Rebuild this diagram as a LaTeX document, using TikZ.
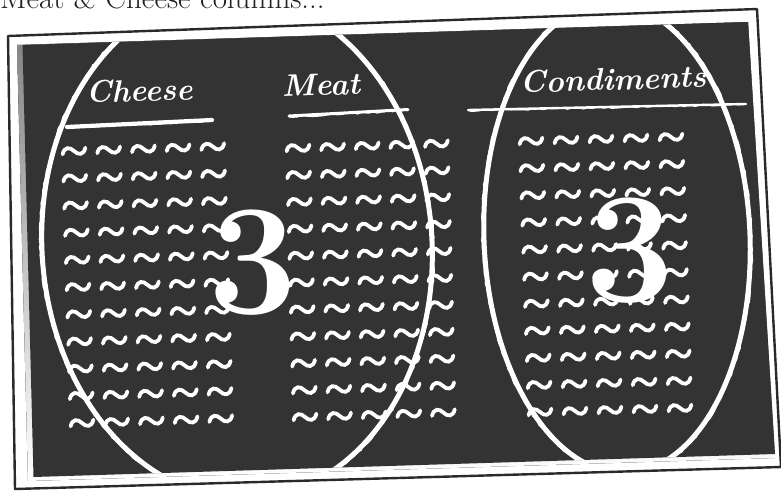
\documentclass[tikz,border=0pt]{standalone}
\usetikzlibrary{decorations.pathmorphing}
\definecolor{board}{HTML}{333333}
\definecolor{shade}{HTML}{1E1A1B}
\definecolor{frameline}{HTML}{2A2A2A}
\definecolor{toptext}{HTML}{231F20}
\tikzset{
  tldline/.style={white,line width=3.8pt,line cap=round},
  tld/.pic={\draw[tldline] (-11.5,3) .. controls (-9.5,-4.8) and (-4,-4.2) .. (0,0) .. controls (4,4.2) and (9.5,4.8) .. (11.5,-3);},
  chalk/.style={white,line width=5pt},
  rough/.style={white,line width=1.2pt,decorate,decoration={random steps,segment length=4pt,amplitude=1pt}},
  uline/.style={white,line cap=round},
  head/.style={text=white,font=\fontsize{31}{36}\selectfont\bfseries\itshape,anchor=base west,rotate=1.8,inner sep=0pt},
  bigthree/.style={font=\fontsize{158}{170}\selectfont\bfseries,inner sep=0pt,anchor=center},
}
\begin{document}
\begin{tikzpicture}[x=1pt,y=-1pt]
\useasboundingbox (0,0) rectangle (781,490);
% cut-off caption at the top
\node[anchor=base west,inner sep=0pt,font=\fontsize{31}{34}\selectfont,text=toptext] (caption) at (0,8.5) {Meat \& Cheese columns...};
% outer frame
\coordinate (o1) at (8,36);
\coordinate (o2) at (757,9);
\coordinate (o3) at (781,467);
\coordinate (o4) at (15,489);
\fill[white] (o1)--(o2)--(o3)--(o4)--cycle;
\draw[frameline,line width=2.4pt,line join=round] (o1)--(o2)--(o3)--(o4)--cycle;
% board
\coordinate (p1) at (17,45);
\coordinate (p2) at (748,22);
\coordinate (p3) at (775,458);
\coordinate (p4) at (28,481);
\coordinate (q1) at (22.5,45);
\coordinate (q2) at (748,22);
\coordinate (q3) at (775,454);
\coordinate (q4) at (33.5,477);
\fill[shade] (p1)--(p2)--(p3)--(p4)--cycle;
\fill[board] (q1)--(q2)--(q3)--(q4)--cycle;
% tildes: Cheese
\foreach \r in {0,...,10}{\foreach \k in {0,...,4}{
  \pic[rotate=1.8] at ({74+0.8*\r+34.7*\k},{151+27.2*\r-1.1*\k}) {tld};}}
% tildes: Meat
\foreach \r in {0,...,10}{\foreach \k in {0,...,4}{
  \pic[rotate=1.8] at ({298+0.7*\r+34.6*\k},{148+26.9*\r-1.1*\k}) {tld};}}
% tildes: Condiments
\foreach \r in {0,...,10}{\foreach \k in {0,...,4}{
  \pic[rotate=1.8] at ({531+0.9*\r+35*\k},{141+27.1*\r-1.0*\k}) {tld};}}
% headings
\node[head] (cheese) at (86,103) {Cheese};
\node[head] (meat) at (282,97) {Meat};
\node[head] (cond) at (520,93) {Condiments};
% underlines
\draw[uline,line width=4.2pt] (67,127) -- (212,120);
\draw[rough] (67,128) -- (212,121);
\draw[uline,line width=3pt] (289,116) -- (408,109.5);
\draw[rough] (289,117) -- (408,110.5);
\draw[uline,line width=2.4pt] (468,110) -- (746,104);
\draw[rough] (468,110.5) -- (746,104.5);
% ellipses
\begin{scope}
\clip (q1)--(q2)--(q3)--(q4)--cycle;
\draw[chalk,rotate around={3.9:(237,246)}] (237,246) ellipse [x radius=195,y radius=253];
\draw[rough,rotate around={3.9:(237,246)}] (237,246) ellipse [x radius=196.5,y radius=254.5];
\draw[chalk,rotate around={2.4:(617,238)}] (617,238) ellipse [x radius=133,y radius=235];
\draw[rough,rotate around={2.4:(617,238)}] (617,238) ellipse [x radius=134.5,y radius=236.5];
\end{scope}
% big threes
\node[bigthree,text=white] (threeL) at (253,263) {3};
\node[bigthree,text=white] (threeR) at (630,251) {3};
\end{tikzpicture}
\end{document}
